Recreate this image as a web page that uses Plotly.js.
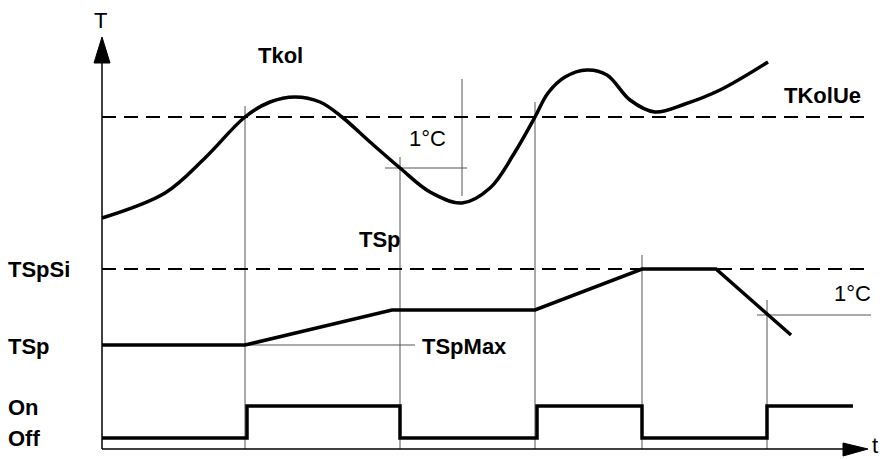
<!DOCTYPE html>
<html><head><meta charset="utf-8">
<script src="https://cdn.plot.ly/plotly-3.0.1.min.js"></script>
<style>html,body{margin:0;padding:0;background:#fff}#c{width:883px;height:459px}</style>
</head><body><div id="c"></div>
<script>
// Collector temperature curve (Tkol)
const tkolX = [102, 165, 205, 245, 270, 295, 320, 342, 370, 400, 430, 462, 490, 515, 535, 548, 565, 587, 607, 630, 655, 685, 720, 768];
const tkolY = [218, 193, 158, 117, 102, 97, 102, 117, 142, 168, 192, 203, 188, 152, 117, 93, 77, 70, 75, 100, 112, 104, 90, 62];
// Storage setpoint (TSp)
const tspX = [102, 245, 392, 535, 642, 716, 791];
const tspY = [345, 345, 310, 310, 269, 269, 335];
// Pump state On/Off
const pumpX = [102, 247, 247, 400, 400, 537, 537, 642, 642, 767, 767, 853];
const pumpY = [438, 438, 406, 406, 438, 438, 406, 406, 438, 438, 406, 406];
// Reference levels
const levelTKolUe = 117;
const levelTSpSi = 269;
// Marker (event) verticals: [x, yTop, yBottom]
const markers = [[245, 106, 449], [400, 157, 449], [462, 79, 196], [535, 102, 449], [642, 255, 449], [767, 300, 449]];
// Helper horizontals: [x0, x1, y]
const helpers = [[385, 467, 168], [245, 415, 345], [757, 871, 315]];
// Text labels: [text, x, y, bold, xanchor, yanchor]
const labels = [
  ["T", 100, 20, false, "center", "middle"],
  ["Tkol", 280, 55, true, "center", "middle"],
  ["1°C", 427, 138, false, "center", "middle"],
  ["TKolUe", 822, 95, true, "center", "middle"],
  ["TSp", 380, 239, true, "center", "middle"],
  ["TSpSi", 7, 269, true, "left", "middle"],
  ["TSp", 7, 346, true, "left", "middle"],
  ["TSpMax", 421, 346, true, "left", "middle"],
  ["1°C", 852, 293, false, "center", "middle"],
  ["On", 7, 407, true, "left", "middle"],
  ["Off", 7, 438, true, "left", "middle"],
  ["t", 871, 458.5, false, "left", "bottom"]
];

const traces = [];
const thin = {color: '#555', width: 1};
markers.forEach(m => traces.push({x: [m[0], m[0]], y: [m[1], m[2]], mode: 'lines', line: thin, hoverinfo: 'skip'}));
helpers.forEach(h => traces.push({x: [h[0], h[1]], y: [h[2], h[2]], mode: 'lines', line: thin, hoverinfo: 'skip'}));
[levelTKolUe, levelTSpSi].forEach(l => traces.push({x: [102, 867], y: [l, l], mode: 'lines', line: {color: '#000', width: 2, dash: '14px,8px'}, hoverinfo: 'skip'}));
traces.push({x: [102, 102], y: [449, 60], mode: 'lines', line: {color: '#000', width: 1.5}, hoverinfo: 'skip'});
traces.push({x: [102, 846], y: [449, 449], mode: 'lines', line: {color: '#000', width: 1.5}, hoverinfo: 'skip'});
traces.push({x: [94, 102, 110, 94], y: [63, 37, 63, 63], mode: 'lines', fill: 'toself', fillcolor: '#000', line: {color: '#000', width: 1}, hoverinfo: 'skip'});
traces.push({x: [843, 868, 843, 843], y: [443, 449, 456, 443], mode: 'lines', fill: 'toself', fillcolor: '#000', line: {color: '#000', width: 1}, hoverinfo: 'skip'});
traces.push({x: tkolX, y: tkolY, mode: 'lines', line: {color: '#000', width: 3.5, shape: 'spline', smoothing: 1}, hoverinfo: 'skip'});
traces.push({x: tspX, y: tspY, mode: 'lines', line: {color: '#000', width: 3.5}, hoverinfo: 'skip'});
traces.push({x: pumpX, y: pumpY, mode: 'lines', line: {color: '#000', width: 3.5}, hoverinfo: 'skip'});

const annotations = labels.map(l => ({
  text: l[3] ? '<b>' + l[0] + '</b>' : l[0], x: l[1], y: l[2], xref: 'x', yref: 'y',
  xanchor: l[4], yanchor: l[5], showarrow: false, borderpad: 0,
  font: {family: 'Liberation Sans, Arial, sans-serif', size: 22, color: '#000'}
}));

const layout = {
  width: 883, height: 459, margin: {l: 0, r: 0, t: 0, b: 0},
  paper_bgcolor: '#fff', plot_bgcolor: '#fff', showlegend: false,
  xaxis: {range: [0, 883], visible: false, fixedrange: true},
  yaxis: {range: [459, 0], visible: false, fixedrange: true},
  annotations: annotations
};
Plotly.newPlot('c', traces, layout, {staticPlot: true, displayModeBar: false});
</script></body></html>
